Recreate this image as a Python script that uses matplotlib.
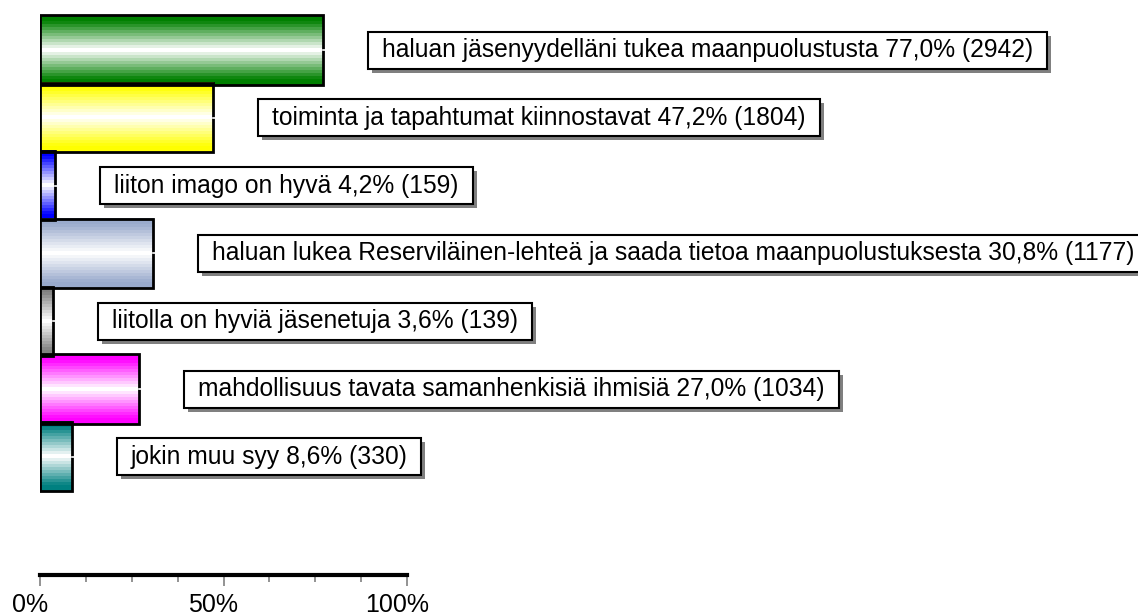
import numpy as np
import matplotlib
matplotlib.use('Agg')
import matplotlib.pyplot as plt
import matplotlib.colors as mcolors
from matplotlib.patches import Rectangle
from matplotlib.transforms import ScaledTranslation, IdentityTransform

plt.rcParams['font.family'] = ['Liberation Sans', 'DejaVu Sans']

# Data
reasons = ['haluan jäsenyydelläni tukea maanpuolustusta',
           'toiminta ja tapahtumat kiinnostavat',
           'liiton imago on hyvä',
           'haluan lukea Reserviläinen-lehteä ja saada tietoa maanpuolustuksesta',
           'liitolla on hyviä jäsenetuja',
           'mahdollisuus tavata samanhenkisiä ihmisiä',
           'jokin muu syy']
percents = [77.0, 47.2, 4.2, 30.8, 3.6, 27.0, 8.6]
counts = [2942, 1804, 159, 1177, 139, 1034, 330]
colors = ['#008000', '#ffff00', '#0000ff', '#99aacc', '#808080', '#ff00ff', '#008080']

W, H = 1138, 615
fig = plt.figure(figsize=(W / 100, H / 100), dpi=100)
# axes: x 0..100% maps to pixels 40..407, top of fig down to axis line at y=575
ax = fig.add_axes([40 / W, (H - 575) / H, 367 / W, 575 / H])
px = 67.8

# stepped cylinder shading: colour at edges, white at centre
n = 23
s = np.abs(np.linspace(-1, 1, n))
mix = np.clip(s * 1.15, 0, 1)

for i, (p, c) in enumerate(zip(percents, colors)):
    rgb = np.array(mcolors.to_rgb(c))
    img = (1 - mix)[:, None] * np.ones(3) + mix[:, None] * rgb
    img = img[:, None, :]
    y0, y1 = i - 0.51, i + 0.51
    ax.imshow(img, extent=(0, p, y1, y0), aspect='auto',
              interpolation='nearest', zorder=2)
    ax.add_patch(Rectangle((0, y0), p, y1 - y0, fill=False,
                           ec='black', lw=2, zorder=3))
    ax.plot([p, p + 0.8], [i, i], color='white', lw=1.2, zorder=4,
            clip_on=False)

ax.set_xlim(0, 100)
ax.set_ylim((575 - 50) / px, -50 / px)

# labels with boxes and shadows
fs = 17.7
texts = []
for i, (r, p, n_) in enumerate(zip(reasons, percents, counts)):
    lab = f'{r} {p:.1f}% ({n_})'.replace('.', ',')
    off = ScaledTranslation(59 / 100, 0, fig.dpi_scale_trans)
    t = ax.text(p, i, lab, ha='left', va='center', fontsize=fs,
                transform=ax.transData + off, zorder=8, clip_on=False)
    texts.append(t)

fig.canvas.draw()
rend = fig.canvas.get_renderer()
for t in texts:
    bb = t.get_window_extent(rend)
    cy = (bb.y0 + bb.y1) / 2
    x0 = bb.x0 - 14
    x1 = bb.x1 + 14
    h = 37
    ax.add_patch(Rectangle((x0 + 4, cy - h / 2 - 4), x1 - x0, h,
                           transform=IdentityTransform(), fc='#808080',
                           ec='none', zorder=6, clip_on=False))
    ax.add_patch(Rectangle((x0, cy - h / 2), x1 - x0, h,
                           transform=IdentityTransform(), fc='white',
                           ec='black', lw=1.5, zorder=7, clip_on=False))

# axis
for sp in ['top', 'right', 'left']:
    ax.spines[sp].set_visible(False)
ax.spines['bottom'].set_linewidth(3)
ax.set_yticks([])
ax.set_xticks([0, 50, 100])
ax.set_xticklabels(['0%', '50%', '100%'], fontsize=18)
ax.set_xticks(np.arange(0, 100.1, 12.5), minor=True)
ax.tick_params(axis='x', which='major', length=8, width=1.2, color='#808080',
               pad=5)
ax.tick_params(axis='x', which='minor', length=5, width=1.2, color='#808080')
shift = ScaledTranslation(-10 / 100, 0, fig.dpi_scale_trans)
for lbl in ax.get_xticklabels():
    lbl.set_transform(lbl.get_transform() + shift)

fig.savefig('out.png', dpi=100)
